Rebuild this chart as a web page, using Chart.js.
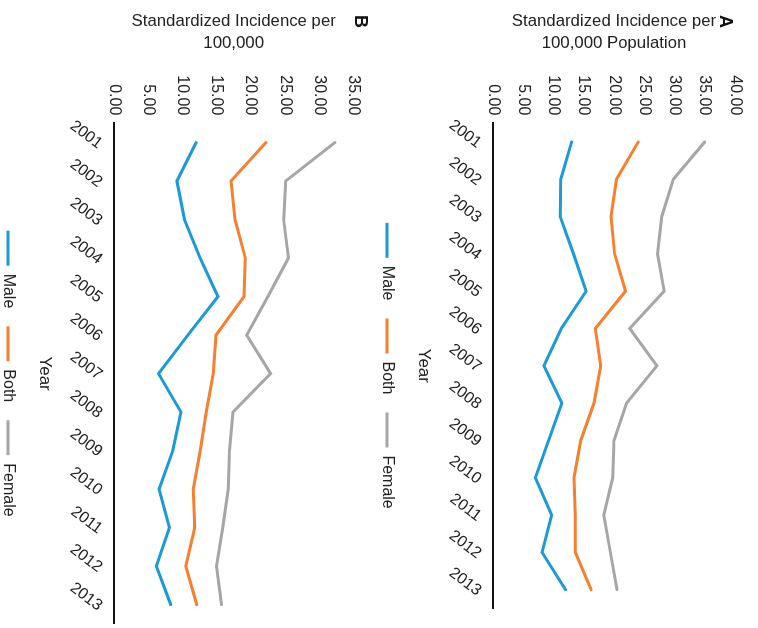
<!DOCTYPE html>
<html>
<head>
<meta charset="utf-8">
<script src="https://cdn.jsdelivr.net/npm/chart.js@4.4.0/dist/chart.umd.min.js"></script>
<style>
  html, body { margin: 0; padding: 0; background: #fff; overflow: hidden; width: 758px; height: 628px; }
  /* whole figure is drawn upright, then turned 90deg clockwise */
  #page { position: absolute; left: 0; top: 0; width: 628px; height: 758px;
          transform-origin: 0 0; transform: translate(758px, 0) rotate(90deg); }
  #chartA { position: absolute; left: 0; top: 0; }
  #chartB { position: absolute; left: 0; top: 380px; }
</style>
</head>
<body>
<div id="page">
  <canvas id="chartA" width="628" height="389"></canvas>
  <canvas id="chartB" width="628" height="388"></canvas>
</div>
<script>
const years = ['2001', '2002', '2003', '2004', '2005', '2006', '2007', '2008', '2009', '2010', '2011', '2012', '2013'];

// panel A - per 100,000 population
const maleA   = [13.0, 11.2, 11.1, 13.3, 15.4, 11.3, 8.4, 11.4, 9.2, 7.0, 9.7, 8.1, 12.0];
const bothA   = [24.0, 20.4, 19.5, 20.1, 21.9, 16.9, 17.8, 16.7, 14.5, 13.4, 13.6, 13.6, 16.2];
const femaleA = [35.0, 29.8, 27.9, 27.2, 28.3, 22.6, 27.1, 22.1, 20.0, 19.8, 18.3, 19.4, 20.5];

// panel B - per 100,000
const maleB   = [12.0, 9.2, 10.3, 12.6, 15.2, 10.8, 6.5, 9.8, 8.6, 6.6, 8.1, 6.2, 8.3];
const bothB   = [22.2, 17.1, 17.7, 19.2, 19.0, 14.9, 14.5, 13.5, 12.6, 11.6, 11.8, 10.5, 12.1];
const femaleB = [32.3, 25.1, 24.8, 25.5, 22.5, 19.4, 22.9, 17.4, 16.9, 16.7, 15.9, 15.0, 15.7];

const BLUE = '#1b9ad6';
const ORANGE = '#f5802f';
const GREY = '#a6a6a6';
const FONT = '"Liberation Sans", Arial, Helvetica, sans-serif';

Chart.defaults.font.family = FONT;
Chart.defaults.color = '#222';

// bold panel letter in the corner
const panelLabel = {
    id: 'panelLabel',
    afterDraw(chart, args, opts) {
        const ctx = chart.ctx;
        ctx.save();
        ctx.font = 'bold 18px ' + FONT;
        ctx.fillStyle = '#111';
        ctx.textBaseline = 'alphabetic';
        ctx.textAlign = 'left';
        ctx.fillText(opts.text, opts.x, opts.y);
        ctx.restore();
    }
};

function series(label, data, color) {
    return {
        label: label,
        data: data,
        borderColor: color,
        backgroundColor: color,
        borderWidth: 3,
        borderCapStyle: 'round',
        pointRadius: 0,
        tension: 0,
        fill: false
    };
}

function createChart(canvasId, male, both, female, yMax, yTitle, letter, padTop, padRight, letterY) {
    const ctx = document.getElementById(canvasId).getContext('2d');
    return new Chart(ctx, {
        type: 'line',
        data: {
            labels: years,
            datasets: [
                series('Male', male, BLUE),
                series('Both', both, ORANGE),
                series('Female', female, GREY)
            ]
        },
        options: {
            responsive: false,
            animation: false,
            events: [],
            layout: { padding: { top: padTop, right: padRight, left: 0, bottom: 0 } },
            plugins: {
                legend: {
                    position: 'bottom',
                    fullSize: false,
                    labels: {
                        usePointStyle: true,
                        pointStyle: 'line',
                        pointStyleWidth: 35,
                        padding: 18,
                        font: { size: 16 }
                    }
                },
                tooltip: { enabled: false },
                panelLabel: { text: letter, x: 15, y: letterY }
            },
            scales: {
                x: {
                    offset: true,
                    grid: { display: false, drawTicks: false },
                    border: { display: true, color: '#111', width: 2 },
                    ticks: { minRotation: 53, maxRotation: 53, padding: 8, labelOffset: 3, font: { size: 16 } },
                    title: { display: true, text: 'Year', font: { size: 17 }, padding: { top: 4, bottom: 0 } },
                    afterFit: s => { s.height = 80; }
                },
                y: {
                    min: 0,
                    max: yMax,
                    grid: { display: false, drawTicks: false },
                    border: { display: false },
                    ticks: { stepSize: 5, padding: 8, font: { size: 16 }, callback: v => v.toFixed(2) },
                    title: { display: true, text: yTitle, font: { size: 16.8, lineHeight: 1.27 }, padding: { top: 11, bottom: 0 } },
                    afterFit: s => { s.width = 123.3; }
                }
            }
        },
        plugins: [panelLabel]
    });
}

const chartA = createChart('chartA', maleA, bothA, femaleA, 40,
    ['Standardized Incidence per', '100,000 Population'], 'A', 23, 19.7, 38);
const chartB = createChart('chartB', maleB, bothB, femaleB, 35,
    ['Standardized Incidence per', '100,000'], 'B', 24.6, 0, 23);
</script>
</body>
</html>
